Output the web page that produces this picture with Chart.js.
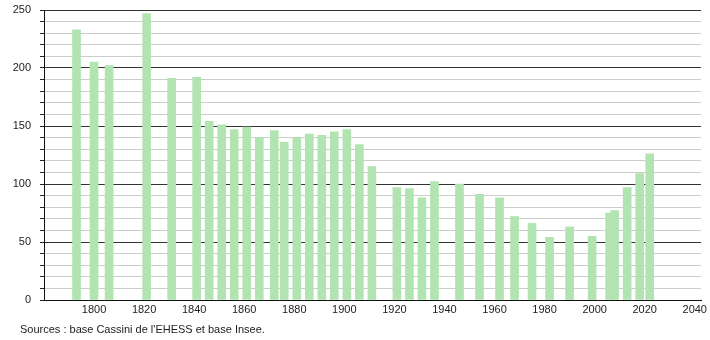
<!DOCTYPE html>
<html>
<head>
<meta charset="utf-8">
<script src="https://cdn.jsdelivr.net/npm/chart.js@4/dist/chart.umd.min.js"></script>
<style>
  html, body { margin: 0; padding: 0; background: #fff; }
  #wrap { position: relative; width: 710px; height: 340px; }
  #src { position: absolute; left: 20px; top: 323px; font: 11px "Liberation Sans", Arial, sans-serif; color: #222; }
</style>
</head>
<body>
<div id="wrap">
  <canvas id="chart" width="710" height="340"></canvas>
  <div id="src">Sources : base Cassini de l'EHESS et base Insee.</div>
</div>
<script>
const years = [1793, 1800, 1806, 1821, 1831, 1841, 1846, 1851, 1856, 1861, 1866, 1872, 1876, 1881, 1886, 1891, 1896, 1901, 1906, 1911,
  1921, 1926, 1931, 1936, 1946, 1954, 1962, 1968, 1975, 1982, 1990, 1999, 2006, 2008, 2013, 2018, 2022]
const population = [233, 205, 202, 247, 191, 192, 154, 151, 147, 149, 140, 146, 136, 140, 143, 142, 145, 147, 134, 115,
  97, 96, 88, 102, 100, 91, 88, 72, 66, 54, 63, 55, 75, 77, 97, 109, 126]
const xTicks = [1800, 1820, 1840, 1860, 1880, 1900, 1920, 1940, 1960, 1980, 2000, 2020, 2040]

const font = { family: '"Liberation Sans", Arial, sans-serif', size: 11 }

new Chart(document.getElementById('chart'), {
  type: 'bar',
  data: {
    datasets: [{
      data: years.map((y, i) => ({ x: y, y: population[i] })),
      backgroundColor: '#b2e4b2',
      borderWidth: 0,
      barThickness: 8,
    }]
  },
  options: {
    responsive: false,
    devicePixelRatio: 1,
    animation: false,
    layout: { padding: { top: 10, right: 9, left: 0, bottom: 0 } },
    plugins: { legend: { display: false }, tooltip: { enabled: false } },
    scales: {
      x: {
        type: 'linear',
        offset: false,
        min: 1780,
        max: 2042.5,
        afterBuildTicks: s => { s.ticks = xTicks.map(v => ({ value: v })) },
        afterFit: s => { s.height = 40; s.paddingLeft = 0; s.paddingRight = 0 },
        grid: { display: false, drawTicks: false, offset: false },
        border: { color: '#111', width: 1 },
        ticks: { color: '#222', font, padding: 3, maxRotation: 0, callback: v => v }
      },
      y: {
        min: 0,
        max: 250,
        afterFit: s => { s.width = 44; s.paddingTop = 0; s.paddingBottom = 0 },
        afterBuildTicks: s => {
          const t = []
          for (let v = 0; v <= 250; v += 10) t.push({ value: v })
          s.ticks = t
        },
        grid: {
          color: c => c.tick && c.tick.value % 50 === 0 ? '#333' : '#cccccc',
          tickColor: '#222',
          tickLength: 4,
          lineWidth: 1,
        },
        border: { color: '#111', width: 1 },
        ticks: {
          color: '#222',
          font,
          padding: 9,
          autoSkip: false,
          callback: v => v % 50 === 0 ? v : ''
        }
      }
    }
  }
})
</script>
</body>
</html>
